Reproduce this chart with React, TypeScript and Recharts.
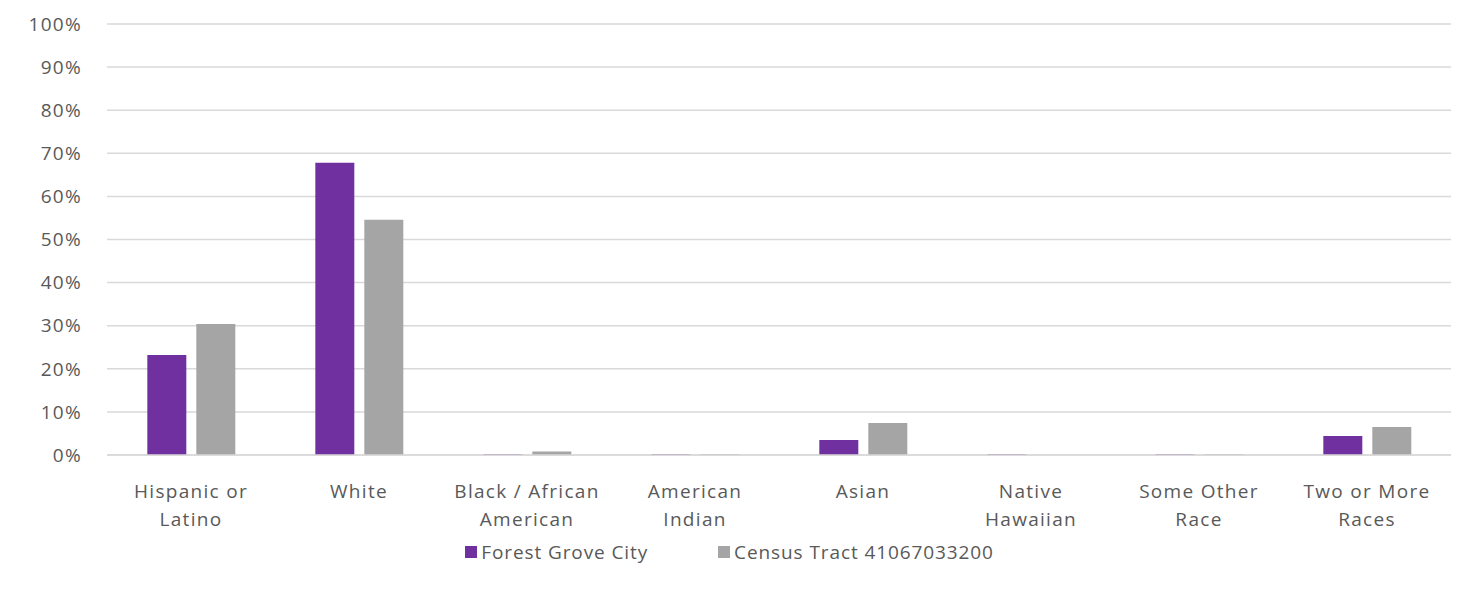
import { Bar, BarChart, CartesianGrid, Legend, XAxis, YAxis } from 'recharts';

// Race / ethnicity share, city vs. census tract (percent of population)
const categories = [
  'Hispanic or\nLatino',
  'White',
  'Black / African\nAmerican',
  'American\nIndian',
  'Asian',
  'Native\nHawaiian',
  'Some Other\nRace',
  'Two or More\nRaces',
];
const cityValues = [23.2, 67.8, 0.2, 0.2, 3.5, 0.2, 0.2, 4.4];
const tractValues = [30.4, 54.6, 0.8, 0.2, 7.4, 0, 0.2, 6.5];
const yTicks = [0, 10, 20, 30, 40, 50, 60, 70, 80, 90, 100];

const CITY = 'Forest Grove City';
const TRACT = 'Census Tract 41067033200';
const PURPLE = '#7030A0';
const GRAY = '#A5A5A5';
const TEXT = '#595959';
const FONT = '"Open Sans", sans-serif';
const FONT_SIZE = 19;
const SPACING = 1.3;

const rows = categories.map((name, i) => ({
  name,
  city: cityValues[i],
  tract: tractValues[i],
}));

function CategoryTick(props: { x?: number; y?: number; payload?: { value: string } }) {
  const { x = 0, y = 0, payload } = props;
  const lines = (payload?.value ?? '').split('\n');
  return (
    <text
      x={x}
      y={y}
      textAnchor="middle"
      fill={TEXT}
      fontSize={FONT_SIZE}
      fontFamily={FONT}
      letterSpacing={SPACING}
    >
      {lines.map((ln, i) => (
        <tspan key={i} x={x} y={y + 41 + i * 28}>
          {ln}
        </tspan>
      ))}
    </text>
  );
}

function LegendRow() {
  const items = [
    { label: CITY, color: PURPLE },
    { label: TRACT, color: GRAY },
  ];
  return (
    <div
      style={{
        display: 'flex',
        justifyContent: 'center',
        gap: 70,
        paddingTop: 4,
        paddingLeft: 8,
        fontFamily: FONT,
        fontSize: FONT_SIZE,
        letterSpacing: 0.9,
        color: TEXT,
      }}
    >
      {items.map((it) => (
        <div key={it.label} style={{ display: 'flex', alignItems: 'center' }}>
          <span
            style={{ width: 12, height: 12, background: it.color, marginRight: 4, display: 'inline-block' }}
          />
          <span>{it.label}</span>
        </div>
      ))}
    </div>
  );
}

export default function App() {
  return (
    <div style={{ position: 'absolute', left: 0, top: 0, background: '#fff' }}>
      <BarChart
        width={1477}
        height={593}
        data={rows}
        margin={{ top: 24, right: 26, left: 0, bottom: 0 }}
        barCategoryGap="24%"
        barGap={10}
      >
        <CartesianGrid vertical={false} stroke="#d9d9d9" strokeWidth={1.5} />
        <XAxis
          dataKey="name"
          interval={0}
          height={80}
          tickSize={0}
          axisLine={{ stroke: '#d9d9d9', strokeWidth: 1.5 }}
          tickLine={false}
          tick={<CategoryTick />}
        />
        <YAxis
          domain={[0, 100]}
          ticks={yTicks}
          width={107}
          tickSize={0}
          tickMargin={25}
          axisLine={false}
          tickLine={false}
          tickFormatter={(v: number) => `${v}%`}
          tick={{ fill: TEXT, fontSize: FONT_SIZE, fontFamily: FONT, letterSpacing: SPACING }}
        />
        <Legend verticalAlign="bottom" height={58} content={<LegendRow />} />
        <Bar dataKey="city" name={CITY} fill={PURPLE} isAnimationActive={false} />
        <Bar dataKey="tract" name={TRACT} fill={GRAY} isAnimationActive={false} />
      </BarChart>
    </div>
  );
}
